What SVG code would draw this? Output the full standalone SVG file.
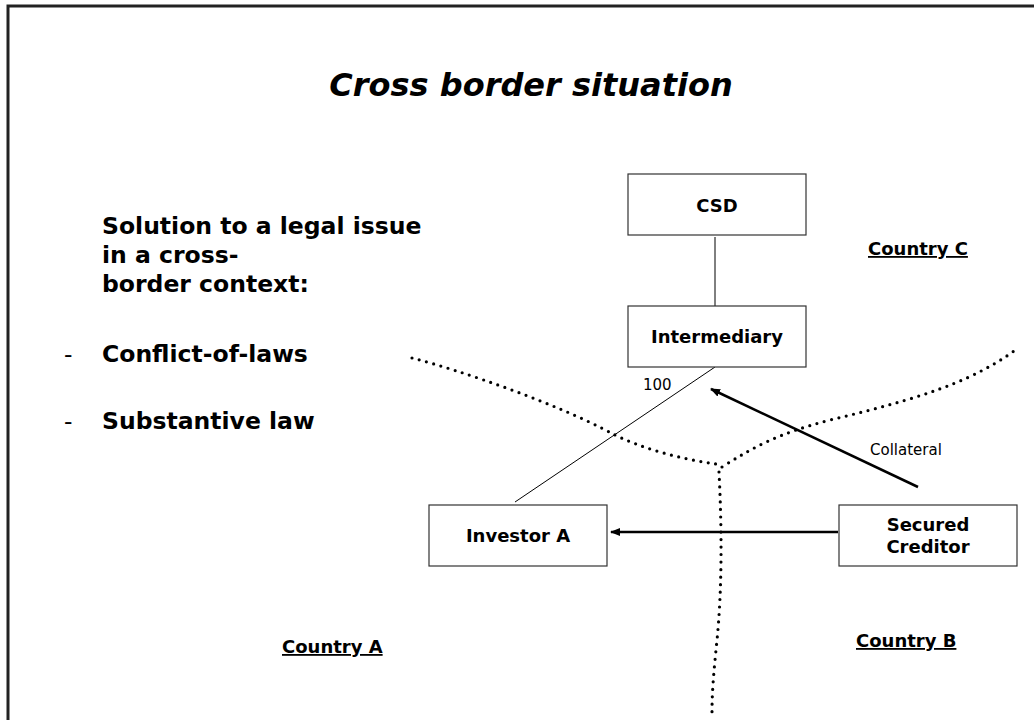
<svg xmlns="http://www.w3.org/2000/svg" width="1034" height="720" viewBox="0 0 1034 720">
  <defs>
    <marker id="arrow" viewBox="0 0 10 10" refX="9" refY="5" markerWidth="4" markerHeight="4" orient="auto-start-reverse" markerUnits="strokeWidth">
      <path d="M0,1 L10,5 L0,9 Z" fill="#000"/>
    </marker>
    <style>
      .frame { fill: none; stroke: #222; stroke-width: 3; }
      .box { fill: #fff; stroke: #333; stroke-width: 1.2; }
      .link { stroke: #000; stroke-width: 1; fill: none; }
      .flow { stroke: #000; stroke-width: 2.5; fill: none; }
      .border { stroke: #000; stroke-width: 3.2; fill: none; stroke-linecap: round; stroke-dasharray: 0 7.5; }
      .title { font-family: "DejaVu Sans", Verdana, sans-serif; font-weight: bold; font-style: italic; font-size: 32px; fill: #000; }
      .body { font-family: "DejaVu Sans", Verdana, sans-serif; font-weight: bold; font-size: 23.5px; fill: #000; }
      .dash { font-family: "DejaVu Sans", Verdana, sans-serif; font-size: 23.5px; fill: #000; }
      .node { font-family: "DejaVu Sans", Verdana, sans-serif; font-weight: bold; font-size: 18px; fill: #000; text-anchor: middle; }
      .country { font-family: "DejaVu Sans", Verdana, sans-serif; font-weight: bold; font-size: 18px; fill: #000; text-decoration: underline; }
      .small { font-family: "DejaVu Sans", Verdana, sans-serif; font-size: 15px; fill: #000; }
    </style>
  </defs>

  <rect width="1034" height="720" fill="#fff"/>
  <!-- slide frame: only top and left edges fall inside the view -->
  <path class="frame" d="M8,724 L8,6 L1040,6"/>

  <text class="title" x="531" y="96" text-anchor="middle">Cross border situation</text>

  <g id="notes">
    <text class="body" x="102" y="234">Solution to a legal issue</text>
    <text class="body" x="102" y="263">in a cross-</text>
    <text class="body" x="102" y="292">border context:</text>
    <text class="dash" x="64" y="362">-</text>
    <text class="body" x="102" y="362">Conflict-of-laws</text>
    <text class="dash" x="64" y="429">-</text>
    <text class="body" x="102" y="429">Substantive law</text>
  </g>

  <!-- country borders (dotted) -->
  <g id="borders">
    <path class="border" d="M412,358 C460,370 560,405 611,433 C640,448 680,459 716,464"/>
    <path class="border" d="M722,467 C755,446 780,433 830,420 C880,408 930,395 969,377 C990,367 1005,358 1018,348"/>
    <path class="border" d="M719,472 C722,530 722,590 717,640 C714,670 712,690 712,712"/>
  </g>

  <g id="labels">
    <text class="country" x="868" y="255">Country C</text>
    <text class="country" x="282" y="653">Country A</text>
    <text class="country" x="856" y="647">Country B</text>
    <text class="small" x="643" y="390">100</text>
    <text class="small" x="870" y="455" font-size="15.5">Collateral</text>
  </g>

  <g id="connectors">
    <line class="link" x1="715" y1="237" x2="715" y2="306"/>
    <line class="link" x1="715" y1="367" x2="515" y2="502"/>
    <line class="flow" x1="838" y1="532" x2="611" y2="532" marker-end="url(#arrow)"/>
    <line class="flow" x1="918" y1="487" x2="711" y2="389" marker-end="url(#arrow)"/>
  </g>

  <g id="csd">
    <rect class="box" x="628" y="174" width="178" height="61"/>
    <text class="node" x="717" y="212">CSD</text>
  </g>
  <g id="intermediary">
    <rect class="box" x="628" y="306" width="178" height="61"/>
    <text class="node" x="717" y="343">Intermediary</text>
  </g>
  <g id="investor-a">
    <rect class="box" x="429" y="505" width="178" height="61"/>
    <text class="node" x="518" y="542">Investor A</text>
  </g>
  <g id="secured-creditor">
    <rect class="box" x="839" y="505" width="178" height="61"/>
    <text class="node" x="928" y="531">Secured</text>
    <text class="node" x="928" y="553">Creditor</text>
  </g>
</svg>
